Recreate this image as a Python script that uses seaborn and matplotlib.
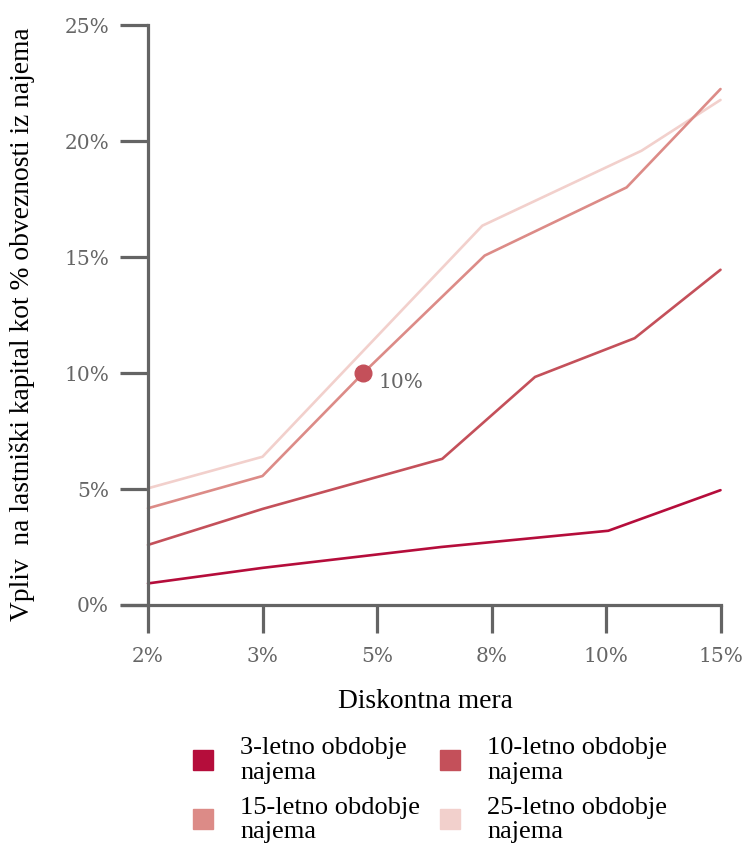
import matplotlib
matplotlib.use("Agg")
import matplotlib.pyplot as plt
from matplotlib.lines import Line2D
import seaborn as sns
import pandas as pd

# Discount rate tick labels (categorical positions 0..5)
rate_labels = ["2%", "3%", "5%", "8%", "10%", "15%"]
rate_positions = [0, 1, 2, 3, 4, 5]

# Impact on equity (% of lease liabilities) per lease term
pos_3 = [0, 1, 2.56, 4.02, 5.0]
val_3 = [0.93, 1.60, 2.50, 3.20, 4.95]

pos_10 = [0, 1, 2.57, 3.38, 4.25, 5.0]
val_10 = [2.59, 4.14, 6.30, 9.83, 11.50, 14.45]

pos_15 = [0, 1, 1.88, 2.94, 4.18, 5.0]
val_15 = [4.17, 5.56, 10.0, 15.06, 18.00, 22.24]

pos_25 = [0, 1, 2.92, 4.31, 5.0]
val_25 = [5.03, 6.39, 16.35, 19.58, 21.77]

series_names = ["3-letno obdobje\nnajema", "10-letno obdobje\nnajema",
                "15-letno obdobje\nnajema", "25-letno obdobje\nnajema"]
series_colors = ["#b50d3b", "#c4505a", "#dc8b87", "#f2d0cc"]

# Highlighted point on the 15-year line
hl_pos = 1.88
hl_val = 10.0
hl_label = "10%"

y_ticks = [0, 5, 10, 15, 20, 25]

frames = []
for name, p, v in zip(series_names, [pos_3, pos_10, pos_15, pos_25],
                      [val_3, val_10, val_15, val_25]):
    frames.append(pd.DataFrame({"pos": p, "val": v, "serija": name}))
df = pd.concat(frames, ignore_index=True)

sns.set_theme(style="white")
plt.rcParams["font.family"] = ["DejaVu Serif"]

W, H = 745, 848
fig = plt.figure(figsize=(W / 100, H / 100), dpi=100)

# axes geometry (pixel based)
px_per_unit = 114.5
x0_px = 148
xlim = (-0.3, 5.05)
ylim = (0, 25.2)
y0_px = 605
px_per_pct = 23.2
left_px = x0_px + xlim[0] * px_per_unit
right_px = x0_px + xlim[1] * px_per_unit
top_px = y0_px - ylim[1] * px_per_pct
ax = fig.add_axes([left_px / W, (H - y0_px) / H,
                   (right_px - left_px) / W, (y0_px - top_px) / H])

palette = dict(zip(series_names, series_colors))
sns.lineplot(data=df, x="pos", y="val", hue="serija", palette=palette,
             hue_order=series_names[::-1], estimator=None, sort=False,
             linewidth=1.9, legend=False, ax=ax)

ax.plot([hl_pos], [hl_val], marker="o", markersize=12, color=series_colors[1],
        linestyle="none", zorder=5)
ax.annotate(hl_label, (hl_pos, hl_val), xytext=(11, -7), textcoords="offset points",
            color="#666666", fontsize=14.5, ha="left", va="center")

ax.set_xlim(*xlim)
ax.set_ylim(*ylim)
ax.set_xticks(rate_positions)
ax.set_xticklabels(rate_labels)
ax.set_yticks(y_ticks)
ax.set_yticklabels([f"{t}%" for t in y_ticks])

spine_color = "#646464"
for side in ["top", "right"]:
    ax.spines[side].set_visible(False)
ax.spines["left"].set_position(("data", 0))
ax.spines["left"].set_bounds(0, 25)
ax.spines["bottom"].set_bounds(-0.23, 5)
for side in ["left", "bottom"]:
    ax.spines[side].set_color(spine_color)
    ax.spines[side].set_linewidth(2.3)
    ax.spines[side].set_capstyle("projecting")

ax.tick_params(axis="both", which="major", length=20, width=2.3, color=spine_color,
               labelcolor="#666666", labelsize=14.5, direction="out",
               bottom=True, left=True)
ax.tick_params(axis="x", pad=10)
ax.tick_params(axis="y", pad=8)
ax.set_xlabel("")
ax.set_ylabel("")
ax.grid(False)

serif = ["Liberation Serif", "DejaVu Serif"]
fig.text(22 / W, 1 - 324 / H, "Vpliv  na lastniški kapital kot % obveznosti iz najema",
         rotation=90, ha="center", va="center", fontsize=19.8, family=serif, color="black")
fig.text(425 / W, 1 - 701 / H, "Diskontna mera", ha="center", va="center",
         fontsize=19.8, family=serif, color="black")

# legend filled column-wise: column 1 = 3 & 15 year, column 2 = 10 & 25 year
order = [0, 2, 1, 3]
handles = [Line2D([], [], marker="s", linestyle="none", markersize=15,
                  markerfacecolor=series_colors[i], markeredgecolor=series_colors[i])
           for i in order]
labels = [series_names[i] for i in order]
leg = fig.legend(handles, labels, ncol=2, loc="upper left",
                 bbox_to_anchor=(190 / W, 1 - 737 / H), frameon=False,
                 prop={"family": serif, "size": 19}, handlelength=1.0,
                 handletextpad=0.9, columnspacing=0.65, labelspacing=0.5,
                 borderpad=0, borderaxespad=0, labelcolor="black")
for t in leg.get_texts():
    t.set_linespacing(1.15)

fig.savefig("out.png", dpi=100, facecolor="white")
